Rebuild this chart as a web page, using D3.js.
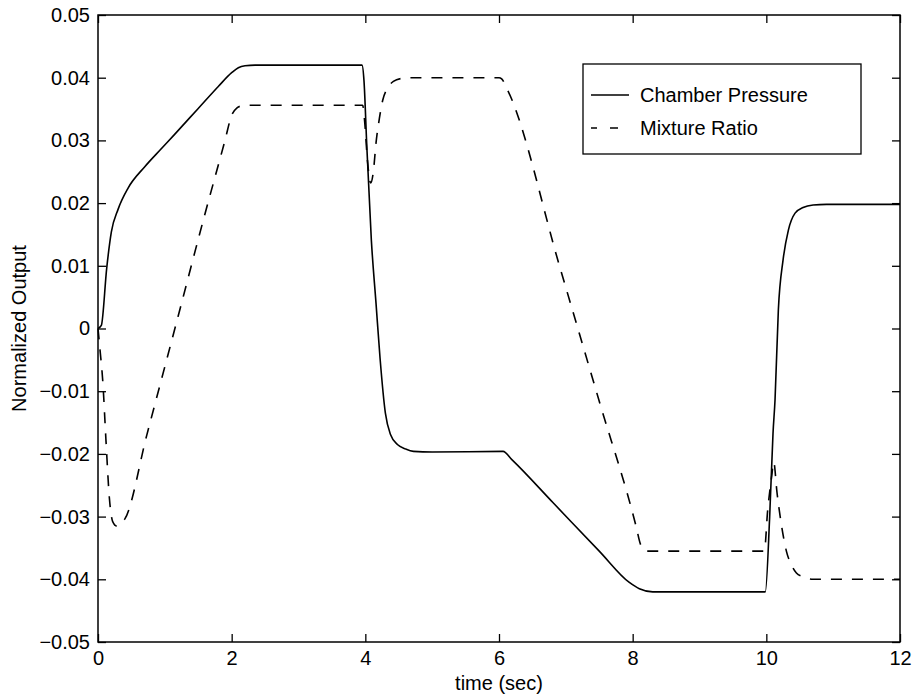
<!DOCTYPE html>
<html>
<head>
<meta charset="utf-8">
<script src="https://cdn.jsdelivr.net/npm/d3@7"></script>
<style>
  html, body { margin: 0; padding: 0; background: #fff; }
  svg text { font-family: "Liberation Sans", Arial, Helvetica, sans-serif; fill: #000; }
</style>
</head>
<body>
<svg id="chart" width="914" height="696"></svg>
<script>
// ---- data ----
const xTicks = [0, 2, 4, 6, 8, 10, 12];
const yTicks = [0.05, 0.04, 0.03, 0.02, 0.01, 0, -0.01, -0.02, -0.03, -0.04, -0.05];
const yTickLabels = ["0.05", "0.04", "0.03", "0.02", "0.01", "0", "\u22120.01", "\u22120.02", "\u22120.03", "\u22120.04", "\u22120.05"];
const seriesNames = ["Chamber Pressure", "Mixture Ratio"];

const chamberTime = [0, 0.05, 0.13, 0.2, 0.3, 0.45, 0.7, 0.95, 1.15, 1.5, 1.8, 2.0, 2.1, 2.2, 2.35, 3.95, 3.98, 4.02, 4.09, 4.16, 4.22, 4.3, 4.38, 4.48, 4.6, 4.72, 5.0, 6.06, 6.2, 6.81, 7.5, 7.95, 8.1, 8.3, 9.985, 10.05, 10.1, 10.13, 10.18, 10.25, 10.33, 10.43, 10.55, 10.7, 10.9, 12];
const chamberValue = [0, 0.0005, 0.0096, 0.0154, 0.019, 0.0224, 0.0258, 0.0287, 0.031, 0.0351, 0.0386, 0.0408, 0.0416, 0.0419, 0.042, 0.042, 0.0395, 0.0296, 0.0141, 0.004, -0.0047, -0.0135, -0.0170, -0.0185, -0.0192, -0.0196, -0.0197, -0.0196, -0.021, -0.0278, -0.0355, -0.0405, -0.0415, -0.042, -0.042, -0.030, -0.0167, -0.0114, 0.003, 0.0109, 0.0157, 0.0184, 0.0193, 0.0197, 0.0198, 0.0198];

const mixtureTime = [0, 0.03, 0.07, 0.12, 0.17, 0.22, 0.28, 0.35, 0.4, 0.73, 1.2, 1.576, 1.9, 2.0, 2.08, 2.15, 2.25, 3.96, 3.99, 4.03, 4.08, 4.12, 4.16, 4.21, 4.26, 4.33, 4.42, 4.55, 4.67, 6.0, 6.04, 6.13, 6.91, 7.5, 8.05, 8.12, 8.2, 9.97, 10.02, 10.08, 10.11, 10.16, 10.23, 10.3, 10.38, 10.45, 10.55, 10.7, 10.9, 12];
const mixtureValue = [0, -0.0034, -0.0082, -0.018, -0.027, -0.0308, -0.0315, -0.031, -0.0304, -0.017, 0.002, 0.0173, 0.030, 0.034, 0.0352, 0.0355, 0.0356, 0.0356, 0.033, 0.027, 0.0232, 0.025, 0.0296, 0.0335, 0.0364, 0.0383, 0.0394, 0.0399, 0.040, 0.040, 0.0398, 0.038, 0.0098, -0.0116, -0.0315, -0.0345, -0.0355, -0.0355, -0.029, -0.0236, -0.0213, -0.0262, -0.0316, -0.0355, -0.0378, -0.039, -0.0396, -0.040, -0.040, -0.040];

// ---- layout ----
const svg = d3.select("#chart");
const mLeft = 98, mRight = 900, mTop = 15, mBottom = 642;
const x = d3.scaleLinear().domain([0, 12]).range([mLeft, mRight]);
const y = d3.scaleLinear().domain([-0.05, 0.05]).range([mBottom, mTop]);
const tickLen = 8;
const fontSize = "20px";

const chamber = chamberTime.map((t, i) => [t, chamberValue[i]]);
const mixture = mixtureTime.map((t, i) => [t, mixtureValue[i]]);

const line = d3.line().x(d => x(d[0])).y(d => y(d[1])).curve(d3.curveMonotoneX);

// frame
svg.append("rect").attr("x", mLeft).attr("y", mTop).attr("width", mRight - mLeft).attr("height", mBottom - mTop)
  .attr("fill", "none").attr("stroke", "#000").attr("stroke-width", 1.5);

// axes (inward ticks on all 4 sides)
const axB = d3.axisBottom(x).tickValues(xTicks).tickSize(-tickLen).tickPadding(12).tickFormat(d3.format("d"));
const axT = d3.axisTop(x).tickValues(xTicks).tickSize(-tickLen).tickFormat("");
const axL = d3.axisLeft(y).tickValues(yTicks).tickSize(-tickLen).tickPadding(8).tickFormat((d, i) => yTickLabels[i]);
const axR = d3.axisRight(y).tickValues(yTicks).tickSize(-tickLen).tickFormat("");

function style(g) {
  g.select(".domain").remove();
  g.selectAll(".tick line").attr("stroke", "#000").attr("stroke-width", 1.3);
  g.selectAll(".tick text").attr("font-size", fontSize).attr("fill", "#000")
    .attr("font-family", "'Liberation Sans', Arial, sans-serif");
}
svg.append("g").attr("transform", `translate(0,${mBottom})`).call(axB).call(style)
  .selectAll(".tick text").attr("dy", "0.55em");
svg.append("g").attr("transform", `translate(0,${mTop})`).call(axT).call(style);
svg.append("g").attr("transform", `translate(${mLeft},0)`).call(axL).call(style);
svg.append("g").attr("transform", `translate(${mRight},0)`).call(axR).call(style);

// series
svg.append("path").datum(chamber).attr("d", line).attr("fill", "none")
  .attr("stroke", "#000").attr("stroke-width", 1.6);
svg.append("path").datum(mixture).attr("d", line).attr("fill", "none")
  .attr("stroke", "#000").attr("stroke-width", 1.6).attr("stroke-dasharray", "11,10");

// axis titles
svg.append("text").attr("x", (mLeft + mRight) / 2).attr("y", 690).attr("text-anchor", "middle")
  .attr("font-size", fontSize).text("time (sec)");
svg.append("text").attr("transform", `translate(26,${(mTop + mBottom) / 2}) rotate(-90)`)
  .attr("text-anchor", "middle").attr("font-size", fontSize).text("Normalized Output");

// legend
const lg = svg.append("g");
lg.append("rect").attr("x", 583).attr("y", 64).attr("width", 278).attr("height", 90)
  .attr("fill", "#fff").attr("stroke", "#000").attr("stroke-width", 1.3);
const rows = [{ name: seriesNames[0], dash: null, yy: 95 }, { name: seriesNames[1], dash: "6,13,8,20", yy: 128 }];
rows.forEach(r => {
  const l = lg.append("line").attr("x1", 591).attr("x2", 629).attr("y1", r.yy).attr("y2", r.yy)
    .attr("stroke", "#000").attr("stroke-width", 1.6);
  if (r.dash) l.attr("stroke-dasharray", r.dash);
  lg.append("text").attr("x", 640).attr("y", r.yy).attr("dy", "0.35em").attr("font-size", fontSize).text(r.name);
});
</script>
</body>
</html>
